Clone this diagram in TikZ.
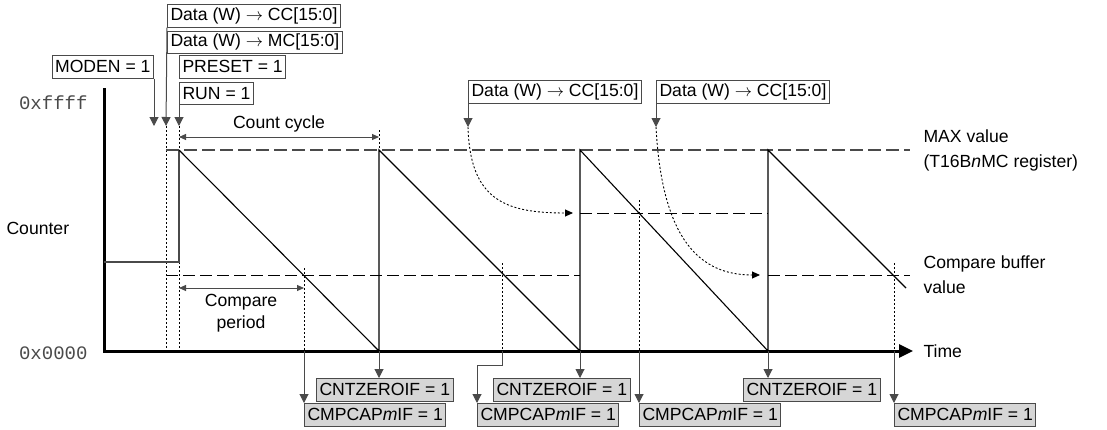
\documentclass[tikz,border=0pt]{standalone}
\usepackage{fontspec}
\setmainfont{Liberation Sans}
\setmonofont{Liberation Mono}
\usetikzlibrary{positioning,arrows.meta}
\definecolor{flaggray}{HTML}{D6D6D6}
\definecolor{linegray}{HTML}{4A4A4A}
\tikzset{
    every node/.style={font=\fontsize{17.6}{19}\selectfont},
    regbox/.style={draw=linegray,line width=1pt,inner xsep=3pt,inner ysep=0pt,minimum height=22.5pt,anchor=north west},
    flagbox/.style={regbox,fill=flaggray},
    pointer/.style={draw=linegray,line width=1pt,-{Triangle[length=9pt,width=9pt]}},
    guide/.style={line width=0.9pt,dash pattern=on 2pt off 2pt},
    ramp/.style={line width=1.1pt},
    maxline/.style={draw=linegray,line width=1.1pt,dash pattern=on 13pt off 5pt},
    cmpline/.style={line width=1pt,dash pattern=on 12pt off 5pt},
    span/.style={draw=linegray,line width=1pt,{Triangle[length=7pt,width=6pt]}-{Triangle[length=7pt,width=6pt]}},
    reload/.style={line width=0.9pt,dash pattern=on 2pt off 2pt,-{Triangle[length=8pt,width=7pt]}},
    hexlbl/.style={anchor=east,text=linegray,font=\ttfamily\fontsize{19}{21}\selectfont}
}
\begin{document}
\begin{tikzpicture}[x=1pt,y=-1pt]
\useasboundingbox (0,0) rectangle (1107,429);
% register writes
\node[regbox] (ccset) at (167,4) {Data (W) $\rightarrow$ CC[15:0]};
\node[regbox,below=3pt of ccset.south west,anchor=north west] (mcset) {Data (W) $\rightarrow$ MC[15:0]};
\node[regbox,anchor=north east] (moden) at (154,55) {MODEN = 1};
\node[regbox] (preset) at (179,55) {PRESET = 1};
\node[regbox,below=3pt of preset.south west,anchor=north west] (run) {RUN = 1};
\node[regbox] (ccB) at (468,80) {Data (W) $\rightarrow$ CC[15:0]};
\node[regbox] (ccC) at (656,80) {Data (W) $\rightarrow$ CC[15:0]};
\coordinate (modenT) at (154,126);
\coordinate (ccT) at (166,126);
\coordinate (runT) at (179,126);
\coordinate (ccBT) at (468,127);
\coordinate (ccCT) at (656,127);
\draw[pointer] (moden.south east) -- (modenT);
\draw[pointer] (ccset.south west) -- (ccT);
\draw[pointer] (run.south west) -- (runT);
\draw[pointer] (ccB.south west) -- (ccBT);
\draw[pointer] (ccC.south west) -- (ccCT);
% axes
\node[hexlbl] (top) at (91,103) {0xffff};
\node[hexlbl] (bot) at (91,353) {0x0000};
\node[anchor=west] (counter) at (3,228) {Counter};
\draw[line width=3pt,-{Triangle[length=14pt,width=13pt]}] (104,88) |- (913,351);
\node[anchor=west] (time) at (920,351) {Time};
% guides
\draw[guide] (ccT) -- (166,351);
\draw[guide] (runT) -- (179,351);
\draw[guide] (379,130) -- (379,150);
\draw[maxline] (166,150) -- (910,150);
\draw[cmpline] (166,275) -- (580,275);
\draw[cmpline] (580,213) -- (768,213);
\draw[cmpline] (768,275) -- (910,275);
% counter
\draw[draw=linegray,line width=1.1pt] (104,262) -| (179,150);
\draw[ramp] (179,150) -- (379,351) -- (379,150) -- (580,351) -- (580,150) -- (768,351) -- (768,150) -- (906,288);
\coordinate (zero1) at (379,351);
\coordinate (zero2) at (580,351);
\coordinate (zero3) at (768,351);
\coordinate (hit1) at (304,351);
\coordinate (hit2) at (502,351);
\coordinate (hit3) at (639,351);
\coordinate (hit4) at (894,351);
\draw[guide] (304,268) -- (hit1);
\draw[guide] (502,263) -- (hit2);
\draw[guide] (639,200) -- (hit3);
\draw[guide] (894,263) -- (hit4);
% spans
\draw[span] (179,137) -- (379,137) node[midway,above=1pt] (cycle) {Count cycle};
\draw[span] (179,288) -- (304,288);
\node[anchor=north,align=center,font=\fontsize{17.6}{22}\selectfont] (period) at (241,291) {Compare\\period};
% buffer reloads
\draw[reload] (ccBT) .. controls (470,200) and (505,213) .. (573,213);
\draw[reload] (ccCT) .. controls (662,240) and (700,275) .. (760,275);
% right labels
\node[anchor=west,align=left,font=\fontsize{17.6}{25}\selectfont] (maxlbl) at (920,150) {MAX value\\(T16B\textit{n}MC register)};
\node[anchor=west,align=left,font=\fontsize{17.6}{25}\selectfont] (cmplbl) at (920,275) {Compare buffer\\value};
% flags
\node[flagbox] (zf1) at (316,378) {CNTZEROIF = 1};
\node[flagbox] (zf2) at (493,378) {CNTZEROIF = 1};
\node[flagbox] (zf3) at (743,378) {CNTZEROIF = 1};
\node[flagbox] (cf1) at (304,403) {CMPCAP\textit{m}IF = 1};
\node[flagbox] (cf2) at (477,403) {CMPCAP\textit{m}IF = 1};
\node[flagbox] (cf3) at (639,403) {CMPCAP\textit{m}IF = 1};
\node[flagbox] (cf4) at (894,403) {CMPCAP\textit{m}IF = 1};
\draw[pointer] (zero1) -- (zero1 |- zf1.north);
\draw[pointer] (zero2) -- (zero2 |- zf2.north);
\draw[pointer] (zero3) -- (zero3 |- zf3.north);
\draw[pointer] (hit1) -- (cf1.north west);
\draw[pointer] (hit2) -- (502,365) -| (cf2.north west);
\draw[pointer] (hit3) -- (cf3.north west);
\draw[pointer] (hit4) -- (cf4.north west);
\end{tikzpicture}
\end{document}
